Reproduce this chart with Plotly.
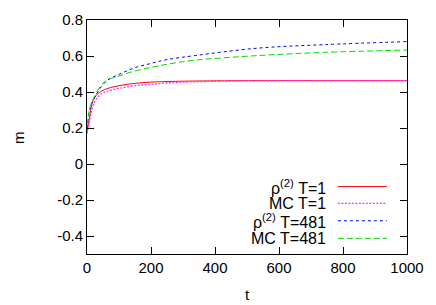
import plotly.graph_objects as go

t = [0, 5, 10, 15, 25, 45, 65, 100, 150, 200, 250, 340, 530, 740, 1000]
rho_T1 = [0.18, 0.23, 0.28, 0.33, 0.372, 0.405, 0.42, 0.435, 0.448, 0.455, 0.458, 0.461, 0.463, 0.463, 0.463]
mc_T1 = [0.17, 0.21, 0.26, 0.30, 0.35, 0.39, 0.405, 0.42, 0.435, 0.442, 0.45, 0.457, 0.462, 0.463, 0.463]
rho_T481 = [0.2, 0.27, 0.31, 0.34, 0.374, 0.43, 0.467, 0.498, 0.535, 0.559, 0.58, 0.603, 0.643, 0.663, 0.68]
mc_T481 = [0.21, 0.28, 0.32, 0.345, 0.38, 0.439, 0.467, 0.489, 0.517, 0.537, 0.554, 0.577, 0.602, 0.62, 0.633]

names = ["ρ<sup>(2)</sup> T=1", "MC T=1", "ρ<sup>(2)</sup> T=481", "MC T=481"]
colors = ["#ff0000", "#ff33ff", "#0000ff", "#00dd00"]
dashes = ["solid", "2px,1.5px", "3px,3px", "6px,3px"]
widths = [1, 1.3, 1, 1]
series = [rho_T1, mc_T1, rho_T481, mc_T481]

font = "Liberation Sans, Arial, Helvetica, sans-serif"
fig = go.Figure()
for y, c, d, w in zip(series, colors, dashes, widths):
    fig.add_trace(go.Scatter(x=t, y=y, mode="lines", line=dict(color=c, width=w, dash=d),
                             line_shape="spline", showlegend=False))

# custom gnuplot-style legend (text on the left, line sample on the right)
ys = [0.288, 0.216, 0.142, 0.067]
for name, c, d, w, yy in zip(names, colors, dashes, widths, ys):
    fig.add_annotation(x=0.753, y=yy, xref="paper", yref="paper", text=name, showarrow=False,
                       xanchor="right", yanchor="middle", font=dict(size=16, color="black", family=font))
    fig.add_shape(type="line", xref="paper", yref="paper", x0=0.784, x1=0.937, y0=yy, y1=yy,
                  line=dict(color=c, width=w, dash=d))

# axis titles
fig.add_annotation(x=-0.216, y=0.5, xref="paper", yref="paper", text="m", showarrow=False,
                   textangle=-90, xanchor="center", yanchor="middle",
                   font=dict(size=15, color="black", family=font))
fig.add_annotation(x=0.5, y=-0.175, xref="paper", yref="paper", text="t", showarrow=False,
                   xanchor="center", yanchor="middle", font=dict(size=15, color="black", family=font))

axis_common = dict(showgrid=False, zeroline=False, showline=True, linecolor="black", linewidth=1,
                   mirror="ticks", ticks="inside", ticklen=7, tickcolor="black", automargin=False,
                   tickfont=dict(size=15, family=font, color="black"))
fig.update_xaxes(range=[0, 1000], tickvals=[0, 200, 400, 600, 800, 1000], **axis_common)
fig.update_yaxes(range=[-0.5, 0.8], tickvals=[-0.4, -0.2, 0, 0.2, 0.4, 0.6, 0.8],
                 ticktext=["-0.4", "-0.2", "0", "0.2", "0.4", "0.6", "0.8"], **axis_common)
# page body has an 8px margin; shrink figure so the plot lands where the reference has it
fig.update_layout(width=428, height=297, margin=dict(l=79, r=29, t=12, b=51),
                  paper_bgcolor="white", plot_bgcolor="white")
fig.write_html("out.html")
